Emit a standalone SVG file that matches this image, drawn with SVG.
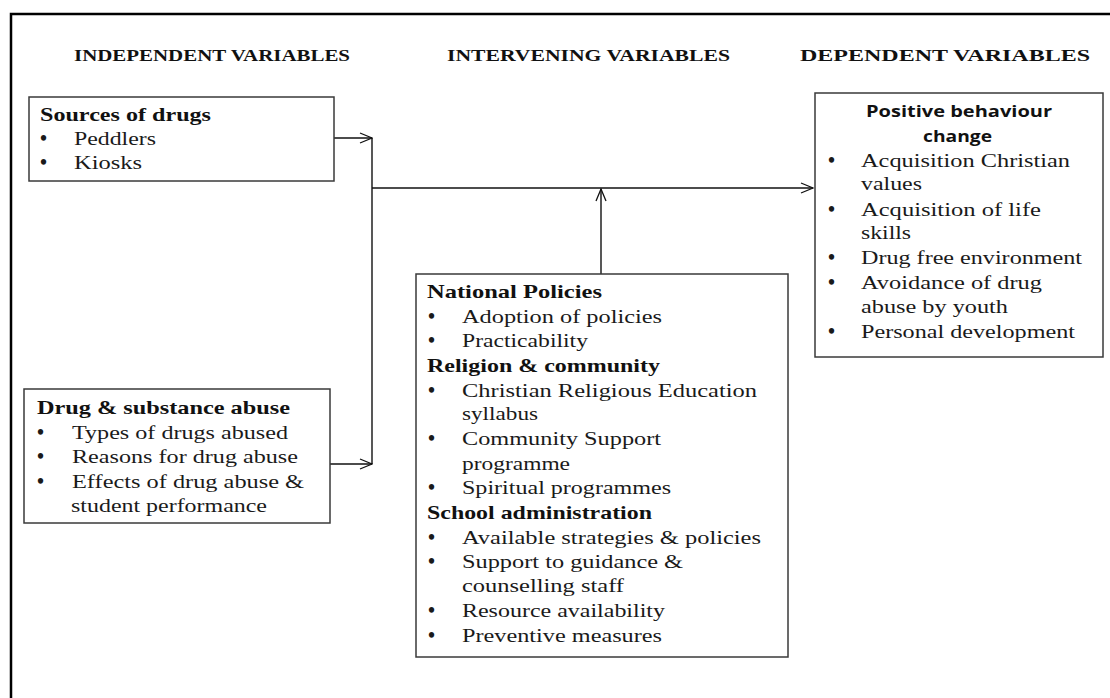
<svg xmlns="http://www.w3.org/2000/svg" width="1110" height="698" viewBox="0 0 1110 698">
<style>
.frame{stroke:#000;stroke-width:2.5;fill:none}
.box{fill:#fff;stroke:#3a3a3a;stroke-width:1.5}
.hd{font-family:"Liberation Serif",serif;font-weight:bold;font-size:17px;fill:#111}
.t{font-family:"Liberation Serif",serif;font-size:19px;fill:#1a1a1a}
.bu{font-family:"Liberation Serif",serif;font-size:20px;font-weight:bold;fill:#1a1a1a}
.b{font-family:"Liberation Serif",serif;font-size:19px;font-weight:bold;fill:#111}
.s{font-family:"Open Sans","Liberation Sans",sans-serif;font-size:15.5px;font-weight:bold;fill:#111}
.con{stroke:#111;stroke-width:1.4;fill:none}
</style>
<defs>
<marker id="arr" markerWidth="14" markerHeight="12" refX="13" refY="6" orient="auto" markerUnits="userSpaceOnUse">
<path d="M1,1 L13,6 L1,11" fill="none" stroke="#111" stroke-width="1.3"/>
</marker>
</defs>
<rect width="1110" height="698" fill="#fff"/>
<path class="frame" d="M11,698 L11,14 L1110,14"/>
<g id="headings">
<text class="hd" x="74" y="61" textLength="276" lengthAdjust="spacingAndGlyphs">INDEPENDENT VARIABLES</text>
<text class="hd" x="447" y="61" textLength="283" lengthAdjust="spacingAndGlyphs">INTERVENING VARIABLES</text>
<text class="hd" x="800" y="61" textLength="290" lengthAdjust="spacingAndGlyphs">DEPENDENT VARIABLES</text>
</g>
<g id="connectors">
<path class="con" d="M334,138 L372,138" marker-end="url(#arr)"/>
<path class="con" d="M330,464 L372,464" marker-end="url(#arr)"/>
<path class="con" d="M372,138 L372,464"/>
<path class="con" d="M372,188 L813,188" marker-end="url(#arr)"/>
<path class="con" d="M601,274 L601,189" marker-end="url(#arr)"/>
</g>
<g id="sources">
<rect class="box" x="29" y="97" width="305" height="84"/>
<text class="b" x="40" y="121" textLength="171" lengthAdjust="spacingAndGlyphs">Sources of drugs</text>
<text class="bu" x="40" y="145">•</text>
<text class="t" x="74" y="145" textLength="82" lengthAdjust="spacingAndGlyphs">Peddlers</text>
<text class="bu" x="40" y="169">•</text>
<text class="t" x="74" y="169" textLength="68" lengthAdjust="spacingAndGlyphs">Kiosks</text>
</g>
<g id="drug-abuse">
<rect class="box" x="24" y="389" width="306" height="134"/>
<text class="b" x="37" y="414" textLength="253" lengthAdjust="spacingAndGlyphs">Drug &amp; substance abuse</text>
<text class="bu" x="37" y="439">•</text>
<text class="t" x="72" y="439" textLength="216" lengthAdjust="spacingAndGlyphs">Types of drugs abused</text>
<text class="bu" x="37" y="463">•</text>
<text class="t" x="72" y="463" textLength="226" lengthAdjust="spacingAndGlyphs">Reasons for drug abuse</text>
<text class="bu" x="37" y="488">•</text>
<text class="t" x="72" y="488" textLength="232" lengthAdjust="spacingAndGlyphs">Effects of drug abuse &amp;</text>
<text class="t" x="71" y="512" textLength="196" lengthAdjust="spacingAndGlyphs">student performance</text>
</g>
<g id="intervening">
<rect class="box" x="416" y="274" width="372" height="383"/>
<text class="b" x="427" y="298" textLength="175" lengthAdjust="spacingAndGlyphs">National Policies</text>
<text class="bu" x="428" y="323">•</text>
<text class="t" x="462" y="323" textLength="200" lengthAdjust="spacingAndGlyphs">Adoption of policies</text>
<text class="bu" x="428" y="347">•</text>
<text class="t" x="462" y="347" textLength="126" lengthAdjust="spacingAndGlyphs">Practicability</text>
<text class="b" x="427" y="372" textLength="233" lengthAdjust="spacingAndGlyphs">Religion &amp; community</text>
<text class="bu" x="428" y="397">•</text>
<text class="t" x="462" y="397" textLength="295" lengthAdjust="spacingAndGlyphs">Christian Religious Education</text>
<text class="t" x="462" y="420" textLength="76" lengthAdjust="spacingAndGlyphs">syllabus</text>
<text class="bu" x="428" y="445">•</text>
<text class="t" x="462" y="445" textLength="199" lengthAdjust="spacingAndGlyphs">Community Support</text>
<text class="t" x="462" y="470" textLength="108" lengthAdjust="spacingAndGlyphs">programme</text>
<text class="bu" x="428" y="494">•</text>
<text class="t" x="462" y="494" textLength="209" lengthAdjust="spacingAndGlyphs">Spiritual programmes</text>
<text class="b" x="427" y="519" textLength="225" lengthAdjust="spacingAndGlyphs">School administration</text>
<text class="bu" x="428" y="544">•</text>
<text class="t" x="462" y="544" textLength="299" lengthAdjust="spacingAndGlyphs">Available strategies &amp; policies</text>
<text class="bu" x="428" y="568">•</text>
<text class="t" x="462" y="568" textLength="221" lengthAdjust="spacingAndGlyphs">Support to guidance &amp;</text>
<text class="t" x="462" y="592" textLength="162" lengthAdjust="spacingAndGlyphs">counselling staff</text>
<text class="bu" x="428" y="617">•</text>
<text class="t" x="462" y="617" textLength="203" lengthAdjust="spacingAndGlyphs">Resource availability</text>
<text class="bu" x="428" y="642">•</text>
<text class="t" x="462" y="642" textLength="200" lengthAdjust="spacingAndGlyphs">Preventive measures</text>
</g>
<g id="dependent">
<rect class="box" x="815" y="93" width="288" height="264"/>
<text class="s" x="866" y="117" textLength="186" lengthAdjust="spacingAndGlyphs">Positive behaviour</text>
<text class="s" x="923" y="142" textLength="69" lengthAdjust="spacingAndGlyphs">change</text>
<text class="bu" x="828" y="167">•</text>
<text class="t" x="861" y="167" textLength="209" lengthAdjust="spacingAndGlyphs">Acquisition Christian</text>
<text class="t" x="861" y="190" textLength="61" lengthAdjust="spacingAndGlyphs">values</text>
<text class="bu" x="828" y="216">•</text>
<text class="t" x="861" y="216" textLength="180" lengthAdjust="spacingAndGlyphs">Acquisition of life</text>
<text class="t" x="861" y="239" textLength="50" lengthAdjust="spacingAndGlyphs">skills</text>
<text class="bu" x="828" y="264">•</text>
<text class="t" x="861" y="264" textLength="221" lengthAdjust="spacingAndGlyphs">Drug free environment</text>
<text class="bu" x="828" y="289">•</text>
<text class="t" x="861" y="289" textLength="181" lengthAdjust="spacingAndGlyphs">Avoidance of drug</text>
<text class="t" x="861" y="313" textLength="147" lengthAdjust="spacingAndGlyphs">abuse by youth</text>
<text class="bu" x="828" y="338">•</text>
<text class="t" x="861" y="338" textLength="214" lengthAdjust="spacingAndGlyphs">Personal development</text>
</g>
</svg>
